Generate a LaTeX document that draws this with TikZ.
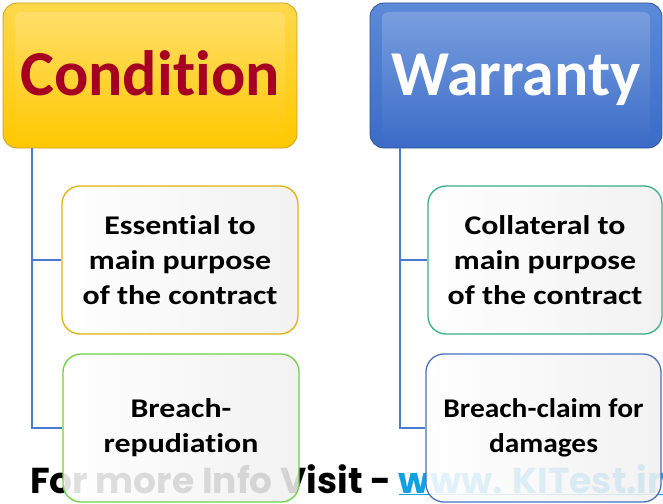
\documentclass[tikz,border=0pt]{standalone}
\usepackage{fontspec}
\setmainfont{Carlito}[Ligatures=NoCommon]
\newfontfamily\childfont{Carlito}[Ligatures=NoCommon, FakeStretch=1.18]
\newfontfamily\childfontN{Carlito}[Ligatures=NoCommon, FakeStretch=1.09]
\newfontfamily\footfont{Poppins}
\definecolor{condred}{HTML}{A50021}
\definecolor{goldA}{HTML}{FFD84A}
\definecolor{goldB}{HTML}{FFC800}
\definecolor{goldE}{HTML}{C9A227}
\definecolor{blueA}{HTML}{5C8AD8}
\definecolor{blueB}{HTML}{3A6BC6}
\definecolor{blueE}{HTML}{2F5597}
\definecolor{conncol}{HTML}{4A7BD0}
\definecolor{essE}{HTML}{E2B010}
\definecolor{collE}{HTML}{3AAE84}
\definecolor{brepE}{HTML}{6FD04A}
\definecolor{bclE}{HTML}{4A70C0}
\definecolor{linkblue}{HTML}{11A0E0}
\begin{document}
\begin{tikzpicture}[x=1pt,y=-1pt]
\useasboundingbox (0,0) rectangle (663,503);
\tikzset{
  headbox/.style n args={4}{draw=#1, line width=0.8pt, rounded corners=14pt,
    top color=#2, bottom color=#3, inner sep=0pt, minimum height=145pt,
    text height=44pt, text depth=5pt,
    font=\bfseries\fontsize{64}{70}\selectfont, text=#4,
    path picture={\shade[rounded corners=6pt, top color=#2!80!white, bottom color=#3]
      ([shift={(12pt,-9pt)}]path picture bounding box.north west) rectangle
      ([shift={(-12pt,9pt)}]path picture bounding box.south east);}},
  childbox/.style={draw=#1, line width=1.3pt, rounded corners=18pt,
    left color=white, right color=black!6, fill opacity=0.88, text opacity=1,
    align=center, inner sep=0pt, minimum height=148pt,
    font=\childfont\bfseries\fontsize{27}{35}\selectfont},
  conn/.style={draw=conncol, line width=1.8pt},
}
% footer (behind boxes)
\node[anchor=base west, inner sep=0pt, font=\footfont\bfseries\fontsize{36}{36}\selectfont]
  (foot) at (30,493) {For more Info Visit - \textcolor{linkblue}{\underline{www. KITest.in}}};
% header boxes
\node[headbox={goldE}{goldA}{goldB}{condred}, minimum width=294pt] (cond) at (150,75.5) {Condition};
\node[headbox={blueE}{blueA}{blueB}{white}, minimum width=292pt] (warr) at (516,75.5) {Warranty};
% child boxes
\node[childbox=essE, minimum width=236pt] (ess) at (180,260) {Essential to\\main purpose\\of the contract};
\node[childbox=collE, minimum width=234pt] (coll) at (545,260) {Collateral to\\main purpose\\of the contract};
\node[childbox=brepE, minimum width=236pt] (brep) at (181,428) {Breach-\\repudiation};
\node[childbox=bclE, minimum width=235pt, font=\childfontN\bfseries\fontsize{27}{35}\selectfont] (bcl) at (543.5,428) {Breach-claim for\\damages};
% connectors
\coordinate (lt) at ([xshift=29pt]cond.south west);
\coordinate (rt) at ([xshift=30pt]warr.south west);
\draw[conn] (lt) |- (ess.west);
\draw[conn] (lt) |- (brep.west);
\draw[conn] (rt) |- (coll.west);
\draw[conn] (rt) |- (bcl.west);
\end{tikzpicture}
\end{document}
